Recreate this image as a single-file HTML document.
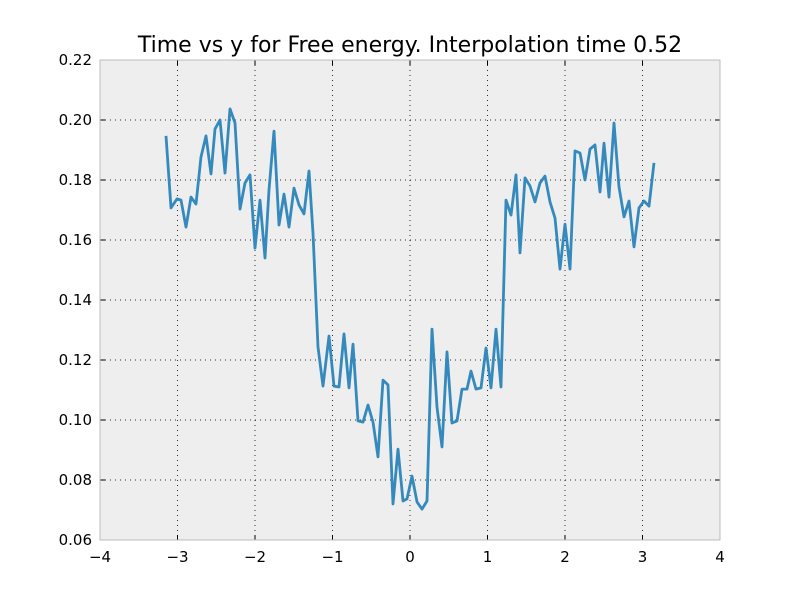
<!DOCTYPE html>
<html><head><meta charset="utf-8"><style>
body{margin:0;background:#fff;}
svg text{font-family:"DejaVu Sans","Liberation Sans",sans-serif;}
</style></head><body>
<svg id="chart" width="800" height="600">
<rect x="0" y="0" width="800" height="600" fill="#ffffff"/>
<rect x="100" y="60" width="620" height="480" fill="#eeeeee"/>
<g id="grid"></g>
<g id="ticks"></g>
<polyline id="series" fill="none" stroke="#348abd" stroke-width="2.8" stroke-linejoin="round"/>
<rect x="100" y="60" width="620" height="480" fill="none" stroke="#bcbcbc" stroke-width="1"/>
<text x="410" y="52" text-anchor="middle" font-size="22" fill="#000">Time vs y for Free energy. Interpolation time 0.52</text>
</svg>
<script>
const xVals=[-3.148,-3.084,-3.006,-2.955,-2.890,-2.826,-2.761,-2.697,-2.632,-2.568,-2.516,-2.452,-2.387,-2.323,-2.258,-2.194,-2.129,-2.065,-2.000,-1.935,-1.871,-1.819,-1.755,-1.690,-1.626,-1.561,-1.497,-1.432,-1.368,-1.303,-1.252,-1.187,-1.123,-1.045,-0.981,-0.916,-0.852,-0.787,-0.735,-0.671,-0.606,-0.542,-0.477,-0.413,-0.348,-0.284,-0.219,-0.155,-0.090,-0.039,0.026,0.090,0.155,0.219,0.284,0.348,0.413,0.477,0.542,0.606,0.671,0.735,0.787,0.852,0.916,0.981,1.045,1.110,1.174,1.239,1.303,1.368,1.419,1.484,1.548,1.613,1.677,1.742,1.806,1.871,1.935,2.000,2.065,2.129,2.194,2.258,2.323,2.387,2.452,2.503,2.568,2.632,2.697,2.761,2.826,2.890,2.955,3.019,3.084,3.148];
const yVals=[.1947,.1707,.1737,.1733,.1643,.1743,.1720,.1877,.1947,.1820,.1970,.2000,.1823,.2037,.1990,.1703,.1790,.1817,.1573,.1733,.1540,.1767,.1963,.1650,.1753,.1643,.1773,.1717,.1687,.1830,.1623,.1243,.1113,.1280,.1113,.1110,.1287,.1107,.1253,.0997,.0993,.1050,.0993,.0877,.1133,.1117,.0720,.0903,.0730,.0737,.0813,.0727,.0703,.0730,.1303,.1043,.0910,.1227,.0990,.0997,.1103,.1103,.1163,.1103,.1107,.1240,.1107,.1303,.1110,.1733,.1683,.1817,.1557,.1807,.1780,.1727,.1790,.1813,.1727,.1673,.1503,.1653,.1503,.1897,.1890,.1800,.1903,.1917,.1760,.1923,.1743,.1990,.1777,.1677,.1730,.1577,.1707,.1730,.1713,.1857];
const xTicks=[-4,-3,-2,-1,0,1,2,3,4];
const yTicks=[0.06,0.08,0.10,0.12,0.14,0.16,0.18,0.20,0.22];
const NS='http://www.w3.org/2000/svg';
const X=v=>100+(v+4)/8*620;
const Y=v=>540-(v-0.06)/0.16*480;
const grid=document.getElementById('grid'),ticks=document.getElementById('ticks');
function mk(tag,attrs,parent){const e=document.createElementNS(NS,tag);for(const k in attrs)e.setAttribute(k,attrs[k]);parent.appendChild(e);return e;}
xTicks.forEach(t=>{
  const x=X(t);
  const g=mk('line',{x1:x,x2:x,y1:60,y2:540,stroke:'#000','stroke-width':1,'stroke-dasharray':'1,4',opacity:0.8},grid);
  
  
  mk('line',{x1:x,x2:x,y1:540,y2:535,stroke:'#000'},ticks);
  mk('line',{x1:x,x2:x,y1:60,y2:65,stroke:'#000'},ticks);
  const l=mk('text',{x:x,y:562,'text-anchor':'middle','font-size':15,fill:'#000'},ticks);
  l.textContent=(t<0?'\u2212'+(-t):t);
  
  
});
yTicks.forEach(t=>{
  const y=Y(t);
  const g=mk('line',{x1:100,x2:720,y1:y,y2:y,stroke:'#000','stroke-width':1,'stroke-dasharray':'1,4',opacity:0.8},grid);
  
  
  mk('line',{x1:100,x2:105,y1:y,y2:y,stroke:'#000'},ticks);
  mk('line',{x1:715,x2:720,y1:y,y2:y,stroke:'#000'},ticks);
  const l=mk('text',{x:92,y:y+5,'text-anchor':'end','font-size':15,fill:'#000'},ticks);
  l.textContent=t.toFixed(2);
  
  
});
document.getElementById('series').setAttribute('points',xVals.map((x,i)=>X(x).toFixed(1)+','+Y(yVals[i]).toFixed(1)).join(' '));
</script>
</body></html>
